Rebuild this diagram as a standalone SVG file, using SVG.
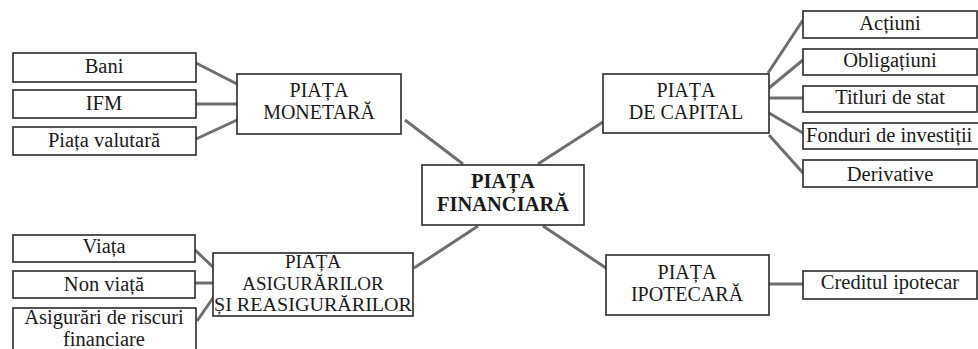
<svg xmlns="http://www.w3.org/2000/svg" width="978" height="349" viewBox="0 0 978 349">
<style>
.box{fill:#fff;stroke:#2a2a2a;stroke-width:1.6}
.t{font-family:'Liberation Serif','Times New Roman',serif;font-size:20.5px;fill:#1a1a1a;text-anchor:middle}
.m{font-size:20px}
.s{font-size:19px}
.b{font-weight:bold;font-size:20.5px}
.c{stroke:#6e6e6e;stroke-width:3;fill:none}
</style>
<rect width="978" height="349" fill="#fff"/>
<g id="connectors">
<line class="c" x1="196" y1="63" x2="237" y2="84"/>
<line class="c" x1="196" y1="104" x2="237" y2="104"/>
<line class="c" x1="196" y1="139" x2="237" y2="120"/>
<line class="c" x1="405" y1="120" x2="463" y2="164"/>
<line class="c" x1="538" y1="164" x2="603" y2="122"/>
<line class="c" x1="478" y1="226" x2="414" y2="268"/>
<line class="c" x1="543" y1="226" x2="606" y2="268"/>
<line class="c" x1="768" y1="73" x2="803" y2="20"/>
<line class="c" x1="769" y1="88" x2="803" y2="60"/>
<line class="c" x1="769" y1="98" x2="803" y2="98"/>
<line class="c" x1="769" y1="113" x2="803" y2="133"/>
<line class="c" x1="769" y1="135" x2="803" y2="173"/>
<line class="c" x1="195" y1="250" x2="213" y2="267"/>
<line class="c" x1="195" y1="283" x2="213" y2="283"/>
<line class="c" x1="197" y1="321" x2="213" y2="298"/>
<line class="c" x1="769" y1="284" x2="803" y2="284"/>
</g>
<g id="central"><rect class="box" x="422" y="165" width="162" height="60"/><text class="t b" x="503" y="188">PIAȚA</text><text class="t b" x="503" y="211">FINANCIARĂ</text></g>
<g id="monetara"><rect class="box" x="237" y="74" width="164" height="60"/><text class="t m" x="319" y="97">PIAȚA</text><text class="t m" x="319" y="119">MONETARĂ</text></g>
<g id="bani"><rect class="box" x="13" y="53" width="183" height="29"/><text class="t" x="104" y="73">Bani</text></g>
<g id="ifm"><rect class="box" x="13" y="90" width="183" height="28"/><text class="t" x="104" y="110">IFM</text></g>
<g id="valutara"><rect class="box" x="13" y="127" width="183" height="28"/><text class="t" x="104" y="147">Piața valutară</text></g>
<g id="capital"><rect class="box" x="603" y="74" width="166" height="59"/><text class="t m" x="686" y="97">PIAȚA</text><text class="t m" x="686" y="119">DE CAPITAL</text></g>
<g id="actiuni"><rect class="box" x="803" y="11" width="174" height="27"/><text class="t" x="890" y="30">Acțiuni</text></g>
<g id="obligatiuni"><rect class="box" x="803" y="49" width="174" height="26"/><text class="t" x="890" y="67">Obligațiuni</text></g>
<g id="titluri"><rect class="box" x="803" y="86" width="174" height="26"/><text class="t" x="890" y="104">Titluri de stat</text></g>
<g id="fonduri"><rect class="box" x="803" y="123" width="190" height="26"/><text class="t" x="806" y="142" style="text-anchor:start">Fonduri de investiții</text></g>
<g id="derivative"><rect class="box" x="803" y="160" width="174" height="27"/><text class="t" x="890" y="181">Derivative</text></g>
<g id="asigurarilor"><rect class="box" x="213" y="253" width="200" height="63"/><text class="t s" x="313" y="268">PIAȚA</text><text class="t s" x="313" y="290">ASIGURĂRILOR</text><text class="t s" x="313" y="311" textLength="198" lengthAdjust="spacingAndGlyphs">ȘI REASIGURĂRILOR</text></g>
<g id="viata"><rect class="box" x="13" y="235" width="182" height="27"/><text class="t" x="104" y="253">Viața</text></g>
<g id="nonviata"><rect class="box" x="13" y="271" width="182" height="27"/><text class="t" x="104" y="291">Non viață</text></g>
<g id="riscuri"><rect class="box" x="13" y="308" width="183" height="50"/><text class="t" x="104" y="324">Asigurări de riscuri</text><text class="t" x="104" y="346">financiare</text></g>
<g id="ipotecara"><rect class="box" x="606" y="255" width="163" height="60"/><text class="t m" x="687" y="279">PIAȚA</text><text class="t m" x="687" y="301">IPOTECARĂ</text></g>
<g id="creditul"><rect class="box" x="803" y="271" width="174" height="28"/><text class="t" x="890" y="289">Creditul ipotecar</text></g>
</svg>
